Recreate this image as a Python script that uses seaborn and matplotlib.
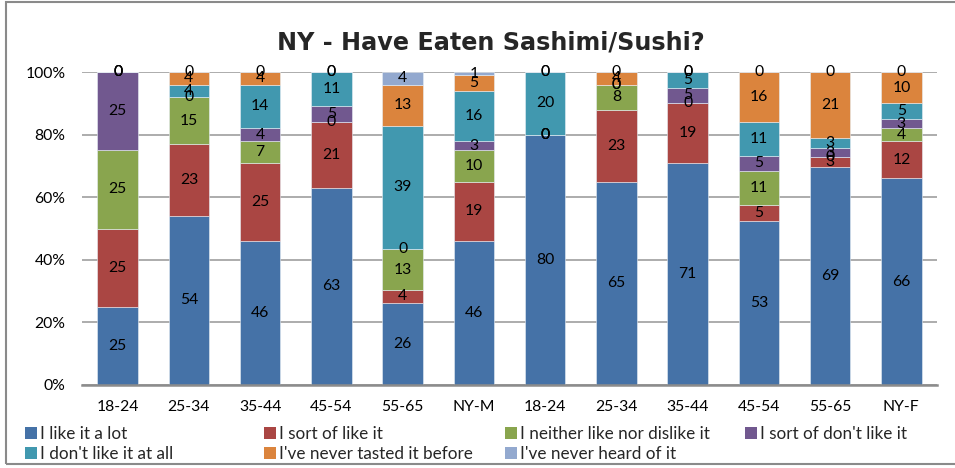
import numpy as np
import pandas as pd
import matplotlib
matplotlib.use("Agg")
import matplotlib.pyplot as plt
import seaborn as sns
from matplotlib.patches import Rectangle
from matplotlib.lines import Line2D
from matplotlib.ticker import FixedLocator

# ---- data -------------------------------------------------------------
title = "NY - Have Eaten Sashimi/Sushi?"
age_labels = ["18-24", "25-34", "35-44", "45-54", "55-65", "NY-M",
              "18-24", "25-34", "35-44", "45-54", "55-65", "NY-F"]
series_names = ["I like it a lot", "I sort of like it",
                "I neither like nor dislike it", "I sort of don't like it",
                "I don't like it at all", "I've never tasted it before",
                "I've never heard of it"]
like_a_lot      = [25, 54, 46, 63, 26, 46, 80, 65, 71, 53, 69, 66]
sort_of_like    = [25, 23, 25, 21, 4, 19, 0, 23, 19, 5, 3, 12]
neither         = [25, 15, 7, 0, 13, 10, 0, 8, 0, 11, 0, 4]
sort_of_dislike = [25, 0, 4, 5, 0, 3, 0, 0, 5, 5, 3, 3]
dislike         = [0, 4, 14, 11, 39, 16, 20, 0, 5, 11, 3, 5]
never_tasted    = [0, 4, 4, 0, 13, 5, 0, 4, 0, 16, 21, 10]
never_heard     = [0, 0, 0, 0, 4, 1, 0, 0, 0, 0, 0, 0]
y_tick_values = [0, 0.2, 0.4, 0.6, 0.8, 1.0]
y_tick_labels = ["0%", "20%", "40%", "60%", "80%", "100%"]

colors = ["#4572A7", "#AA4643", "#89A54E", "#71588F",
          "#4198AF", "#DB843D", "#93A9CF"]

all_series = [like_a_lot, sort_of_like, neither, sort_of_dislike,
              dislike, never_tasted, never_heard]

# ---- tidy table, each column normalised to 100 % ----------------------
values = np.array(all_series, dtype=float)          # series x category
shares = values / values.sum(axis=0, keepdims=True)
keys = [f"c{i}" for i in range(len(age_labels))]
rows = []
for s, name in enumerate(series_names):
    for c, k in enumerate(keys):
        rows.append({"key": k, "series": name,
                     "value": values[s, c], "share": shares[s, c]})
df = pd.DataFrame(rows)

# ---- figure -------------------------------------------------------------
sns.set_style("white")
plt.rcParams["font.family"] = ["Lato", "DejaVu Sans"]
W, H = 955, 468
fig = plt.figure(figsize=(W / 100, H / 100), dpi=100)
ax = fig.add_axes([82 / W, 1 - 385 / H, (937 - 82) / W, 313 / H])

label_size = 11.3
bottom = np.zeros(len(keys))
for name, col in zip(series_names, colors):
    sub = df[df["series"] == name]
    sns.barplot(data=sub, x="key", y="share", order=keys, color=col,
                saturation=1, width=0.57, errorbar=None, bottom=bottom,
                edgecolor="#e8eef5", linewidth=0.4, ax=ax)
    # value labels at the middle of every segment
    for i, k in enumerate(keys):
        row = sub[sub["key"] == k].iloc[0]
        ax.text(i, bottom[i] + row["share"] / 2, f"{int(row['value'])}",
                ha="center", va="center", fontsize=label_size, color="black")
    bottom = bottom + sub.set_index("key").loc[keys, "share"].to_numpy()

ax.set_xlim(-0.5, len(keys) - 0.5)
ax.set_ylim(0, 1)
ax.yaxis.set_major_locator(FixedLocator(y_tick_values))
ax.set_yticklabels(y_tick_labels)
ax.set_xticks(range(len(keys)))
ax.set_xticklabels(age_labels)
ax.set_xlabel("")
ax.set_ylabel("")
ax.tick_params(axis="both", length=0, labelsize=label_size, colors="black")
ax.tick_params(axis="y", pad=12)
ax.tick_params(axis="x", pad=11)
ax.yaxis.grid(True, color="#A6A6A6", linewidth=1.3)
ax.xaxis.grid(False)
ax.set_axisbelow(True)
for side in ("left", "right", "top"):
    ax.spines[side].set_visible(False)
ax.spines["bottom"].set_color("#8C8C8C")
ax.spines["bottom"].set_linewidth(1.8)

fig.text(491 / W, 1 - 49.5 / H, title, ha="center", va="baseline",
         fontsize=17.2, fontweight="bold", family=["DejaVu Sans"])

# ---- legend: four columns, two rows ------------------------------------
col_x = [25, 264, 504.5, 744.5]
for c in range(4):
    idx = [c, c + 4] if c + 4 < len(series_names) else [c]
    handles = [Line2D([], [], marker="s", linestyle="", markersize=8,
                      markerfacecolor=colors[j], markeredgewidth=0)
               for j in idx]
    labels = [series_names[j] for j in idx]
    fig.legend(handles, labels, loc="upper left",
               bbox_to_anchor=(col_x[c] / W, 1 - 426 / H),
               frameon=False, fontsize=12.3, handlelength=0.75,
               handletextpad=0.15, borderpad=0, borderaxespad=0,
               labelspacing=0.24)

# chart frame
fig.patches.append(Rectangle((5.5 / W, 1 - 463.5 / H), 2, (463.5 - 1.5) / H,
                             transform=fig.transFigure, fill=False,
                             edgecolor="#8A8A8A", linewidth=1.5))

fig.savefig("out.png", dpi=100)
